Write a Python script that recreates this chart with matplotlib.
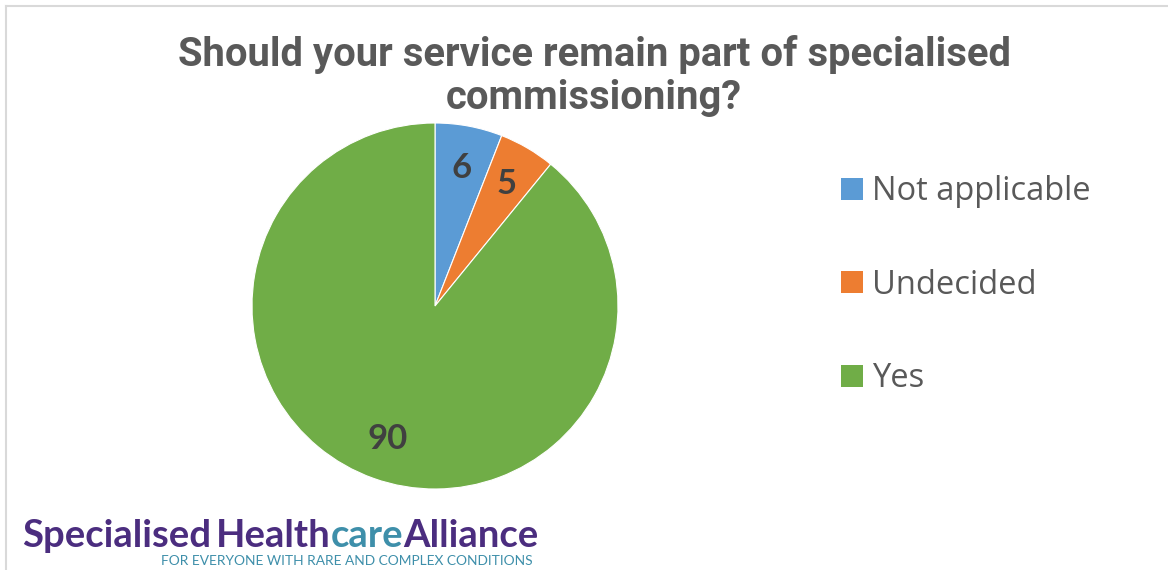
import matplotlib
matplotlib.use("Agg")
import matplotlib.pyplot as plt
from matplotlib.lines import Line2D
from matplotlib.patches import Patch

categories = ["Not applicable", "Undecided", "Yes"]
values = [6, 5, 90]
colors = ["#5B9BD5", "#ED7D31", "#70AD47"]
title = "Should your service remain part of specialised\ncommissioning?"

W, H = 1168, 570
fig = plt.figure(figsize=(W / 100, H / 100), dpi=100)
fig.patch.set_facecolor("white")

# border of chart area (top and left visible)
fig.add_artist(Line2D([6 / W, 1.0], [1 - 6 / H, 1 - 6 / H], color="#d9d9d9", lw=1.5))
fig.add_artist(Line2D([6 / W, 6 / W], [0, 1 - 6 / H], color="#d9d9d9", lw=1.5))

cx, cy, r = 435, 306, 183
ax = fig.add_axes([(cx - r) / W, (H - cy - r) / H, 2 * r / W, 2 * r / H])
wedges, texts, autotexts = ax.pie(
    values, colors=colors, startangle=90, counterclock=False,
    autopct=lambda p: f"{round(p * sum(values) / 100):d}", pctdistance=0.77,
    wedgeprops=dict(edgecolor="white", linewidth=0.8),
    textprops=dict(fontsize=25, fontweight="bold", color="#404040", family=["Lato", "DejaVu Sans"]),
)
ax.set_aspect("equal")
ax.set_xlim(-1, 1)
ax.set_ylim(-1, 1)

fig.text(594 / W, 1 - 76 / H, title, ha="center", va="center", fontsize=28.8,
         fontweight="bold", color="#595959", linespacing=1.16,
         family=["Roboto", "DejaVu Sans"])

handles = [Patch(facecolor=c, edgecolor="none") for c in colors]
fig.legend(handles, categories, loc="upper left", bbox_to_anchor=(812 / W, 1 - 146 / H),
           frameon=False, labelcolor="#595959", labelspacing=1.85,
           handlelength=0.65, handleheight=0.65, handletextpad=0.3,
           prop=dict(family=["Open Sans", "DejaVu Sans"], size=23.5))

# logo
fig.canvas.draw()
renderer = fig.canvas.get_renderer()
x = 22
parts = [("Specialised", "#4B2D7F"), ("Health", "#4B2D7F"), ("care", "#3E8FAA"), ("Alliance", "#4B2D7F")]
for txt, col in parts:
    t = fig.text(x / W, 1 - 547 / H, txt, ha="left", va="baseline", fontsize=27.5,
                 fontweight="bold", color=col, family=["Lato", "DejaVu Sans"])
    bb = t.get_window_extent(renderer)
    x = bb.x1 + (5 if txt == "Specialised" else 0)
fig.text(533 / W, 1 - 565 / H, "FOR EVERYONE WITH RARE AND COMPLEX CONDITIONS", ha="right",
         va="baseline", fontsize=9.9, fontweight="normal", color="#3E8FAA",
         family=["Lato", "DejaVu Sans"])

fig.savefig("out.png", dpi=100, facecolor="white")
